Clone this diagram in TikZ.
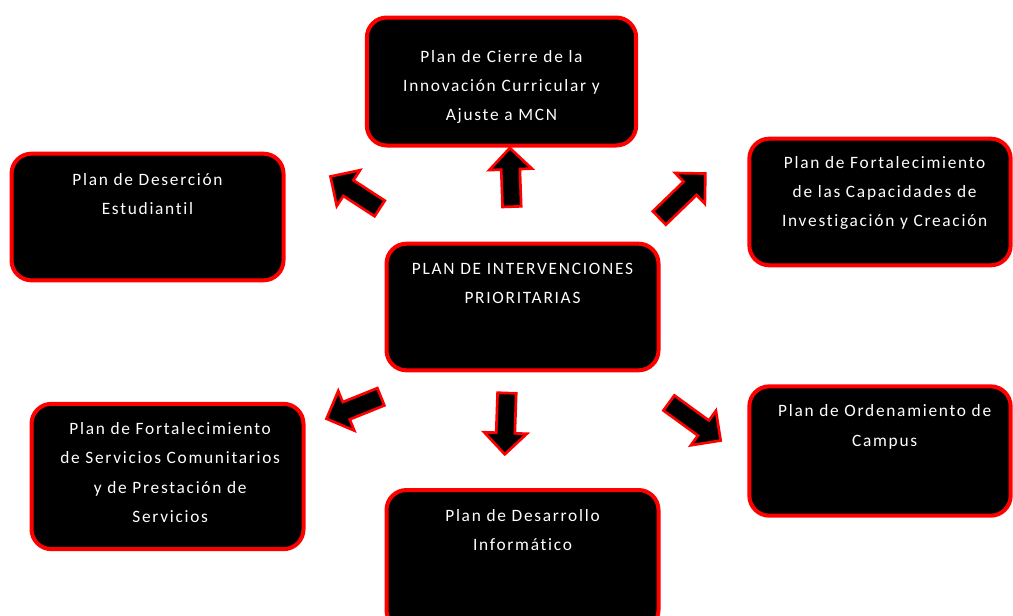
\documentclass[tikz,border=0pt]{standalone}
\usepackage{fontspec}
\setmainfont{Carlito}[LetterSpace=10,Ligatures={NoCommon}]
\usetikzlibrary{positioning,shapes.arrows}

\tikzset{
planbox/.style={draw={rgb,255:red,255;green,0;blue,0},fill=black,line width=3pt,rounded corners=15pt,inner sep=0pt},
plantext/.style={text=white,align=center,inner sep=0.75pt,font=\fontsize{13}{22}\selectfont},
blockarrow/.style={single arrow,draw={rgb,255:red,255;green,0;blue,0},fill=black,line width=2pt,
  inner xsep=0pt,inner ysep=6pt,single arrow head extend=9pt,minimum width=0pt,minimum height=44pt}}
\tikzset{every picture/.style={line width=0.75pt}}

\begin{document}
\begin{tikzpicture}[x=0.75pt,y=0.75pt,yscale=-1,xscale=1]
\clip (0,0) rectangle (1013,615);
\fill[white] (0,0) rectangle (1013,615);

%Rounded Rect: central plan
\node (central) [planbox,minimum width=204pt,minimum height=95pt] at (522.5,307) {};
%Rounded Rect: outer plans
\node (cierre) [planbox,minimum width=202pt,minimum height=96pt] at (501.5,81.5) {};
\node (desercion) [planbox,minimum width=204pt,minimum height=95pt] at (147.5,217) {};
\node (investigacion) [planbox,minimum width=196pt,minimum height=95pt] at (880,202) {};
\node (servicios) [planbox,minimum width=204pt,minimum height=109pt] at (167.5,476.5) {};
\node (campus) [planbox,minimum width=196pt,minimum height=97pt] at (880,451) {};
\node (informatico) [planbox,minimum width=204pt,minimum height=105pt] at (522.5,560) {};

% Text Node
\node (tcentral) [plantext,below=15pt of central.north] {PLAN DE INTERVENCIONES\\PRIORITARIAS};
% Text Node
\node (tcierre) [plantext,below=24.75pt of cierre.north] {Plan de Cierre de la\\Innovación Curricular y\\Ajuste a MCN};
% Text Node
\node (tdesercion) [plantext,below=15pt of desercion.north] {Plan de Deserción\\Estudiantil};
% Text Node
\node (tinvestigacion) [plantext,below=13.5pt of investigacion.north,xshift=3.5pt] {Plan de Fortalecimiento\\de las Capacidades de\\Investigación y Creación};
% Text Node
\node (tservicios) [plantext,below=14.25pt of servicios.north,xshift=2pt] {Plan de Fortalecimiento\\de Servicios Comunitarios\\y de Prestación de\\Servicios};
% Text Node
\node (tcampus) [plantext,below=14.25pt of campus.north,xshift=3.5pt] {Plan de Ordenamiento de\\Campus};
% Text Node
\node (tinformatico) [plantext,below=15pt of informatico.north] {Plan de Desarrollo\\Informático};

%Block Arrows
\node (aup) [blockarrow,rotate=92] at (511,182) {};
\node (aupleft) [blockarrow,rotate=147] at (359,195) {};
\node (aupright) [blockarrow,rotate=44,minimum height=48pt] at (679,199) {};
\node (adownleft) [blockarrow,rotate=202] at (358,406) {};
\node (adown) [blockarrow,rotate=268,minimum height=46pt] at (506,419) {};
\node (adownright) [blockarrow,rotate=-36,minimum height=48pt] at (691,419) {};

\end{tikzpicture}
\end{document}
